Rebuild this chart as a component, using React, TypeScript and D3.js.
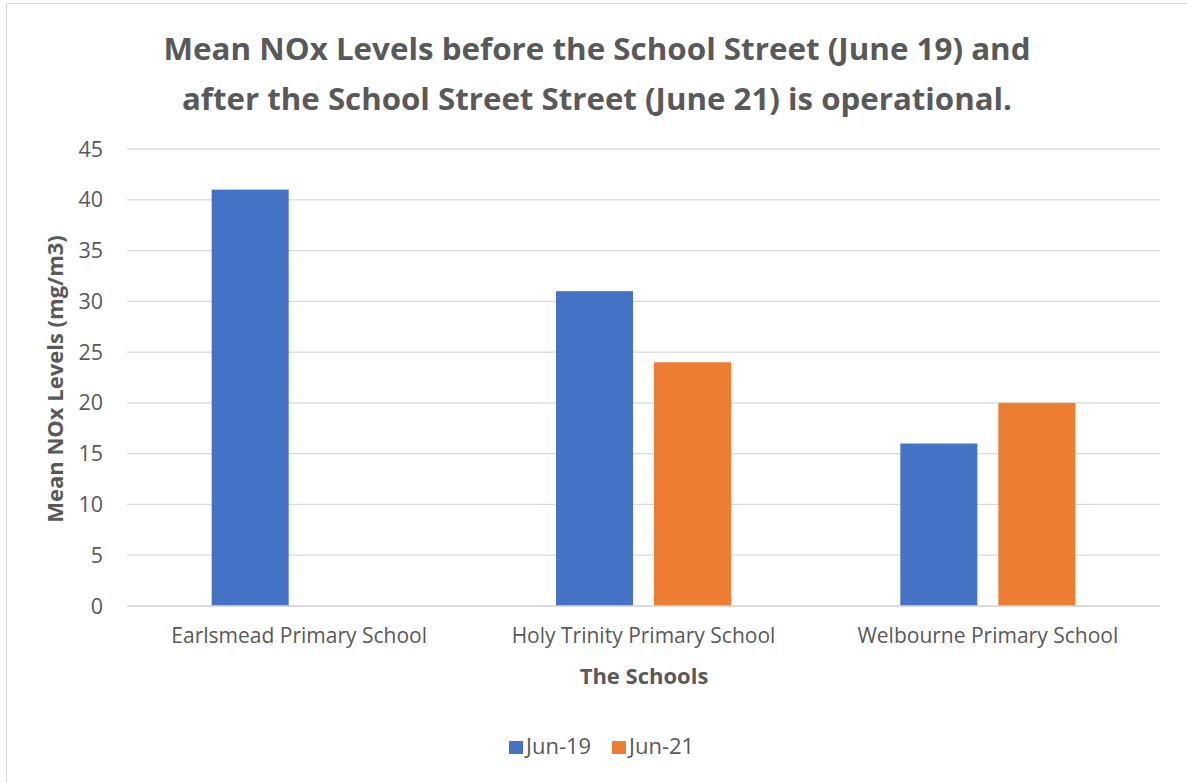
import * as d3 from 'd3';
import React, { useEffect } from 'react';

const schools = ['Earlsmead Primary School', 'Holy Trinity Primary School', 'Welbourne Primary School'];
const seriesNames = ['Jun-19', 'Jun-21'];
const jun19 = [41, 31, 16];
const jun21 = [null, 24, 20];
const yTicks = [0, 5, 10, 15, 20, 25, 30, 35, 40, 45];
const colors = ['#4472C4', '#ED7D31'];

const titleLines = [
  'Mean NOx Levels before the School Street (June 19) and',
  'after the School Street Street (June 21) is operational.',
];

const width = 1187;
const height = 783;
const font = "'Open Sans', 'Noto Sans', sans-serif";
const textColor = '#595959';

export default function App() {
  useEffect(() => {
    document.body.style.margin = '0';
  }, []);

  const margin = { left: 127, right: 27, top: 149, bottom: 177 };
  const plotRight = width - margin.right;
  const plotBottom = height - margin.bottom;

  const x = d3.scaleBand().domain(schools).range([margin.left, plotRight]);
  const y = d3.scaleLinear().domain([0, 45]).range([plotBottom, margin.top]);
  // two bars per school, 77px each with a ~21px gap
  const groupWidth = 175;
  const inner = d3
    .scaleBand()
    .domain(seriesNames)
    .range([0, groupWidth])
    .paddingInner(0.214);

  const rows = schools.map((s, i) => ({ school: s, values: [jun19[i], jun21[i]] }));

  return (
    <svg width={width} height={height} style={{ display: 'block', fontFamily: font }}>
      <rect x={0} y={0} width={width} height={height} fill="#fff" />
      <rect x={6.5} y={3.5} width={width + 10} height={height + 10} fill="none" stroke="#d9d9d9" strokeWidth={1} />

      {titleLines.map((t, i) => (
        <text
          key={i}
          x={597}
          y={60 + i * 50}
          textAnchor="middle"
          fontSize={30}
          fontWeight="bold"
          fill={textColor}
          textLength={i === 0 ? 867 : 830}
          lengthAdjust="spacingAndGlyphs"
        >
          {t}
        </text>
      ))}

      {yTicks.map((t) => (
        <g key={t}>
          <line x1={margin.left} x2={plotRight} y1={y(t)} y2={y(t)} stroke="#d9d9d9" strokeWidth={1.3} />
          <text x={103} y={y(t) + 7.5} textAnchor="end" fontSize={21.5} fill={textColor}>
            {t}
          </text>
        </g>
      ))}

      {rows.map((r) => {
        const cx = x(r.school)! + x.bandwidth() / 2;
        const gx = cx - groupWidth / 2;
        return (
          <g key={r.school}>
            {r.values.map((v, j) =>
              v == null ? null : (
                <rect
                  key={j}
                  x={gx + inner(seriesNames[j])!}
                  y={y(v)}
                  width={inner.bandwidth()}
                  height={plotBottom - y(v)}
                  fill={colors[j]}
                />
              )
            )}
            <text x={cx} y={643} textAnchor="middle" fontSize={21} fill={textColor}>
              {r.school}
            </text>
          </g>
        );
      })}

      <line x1={margin.left} x2={plotRight} y1={plotBottom} y2={plotBottom} stroke="#d9d9d9" strokeWidth={1.3} />

      <text x={644} y={684} textAnchor="middle" fontSize={22} fontWeight="bold" fill={textColor}>
        The Schools
      </text>

      <text
        transform={`translate(63, 379) rotate(-90)`}
        textAnchor="middle"
        fontSize={22}
        fontWeight="bold"
        fill={textColor}
      >
        Mean NOx Levels (mg/m3)
      </text>

      {seriesNames.map((s, i) => (
        <g key={s} transform={`translate(${509 + i * 103}, 741)`}>
          <rect width={14} height={13} fill={colors[i]} />
          <text x={17} y={12.5} fontSize={22} fill={textColor}>
            {s}
          </text>
        </g>
      ))}
    </svg>
  );
}
